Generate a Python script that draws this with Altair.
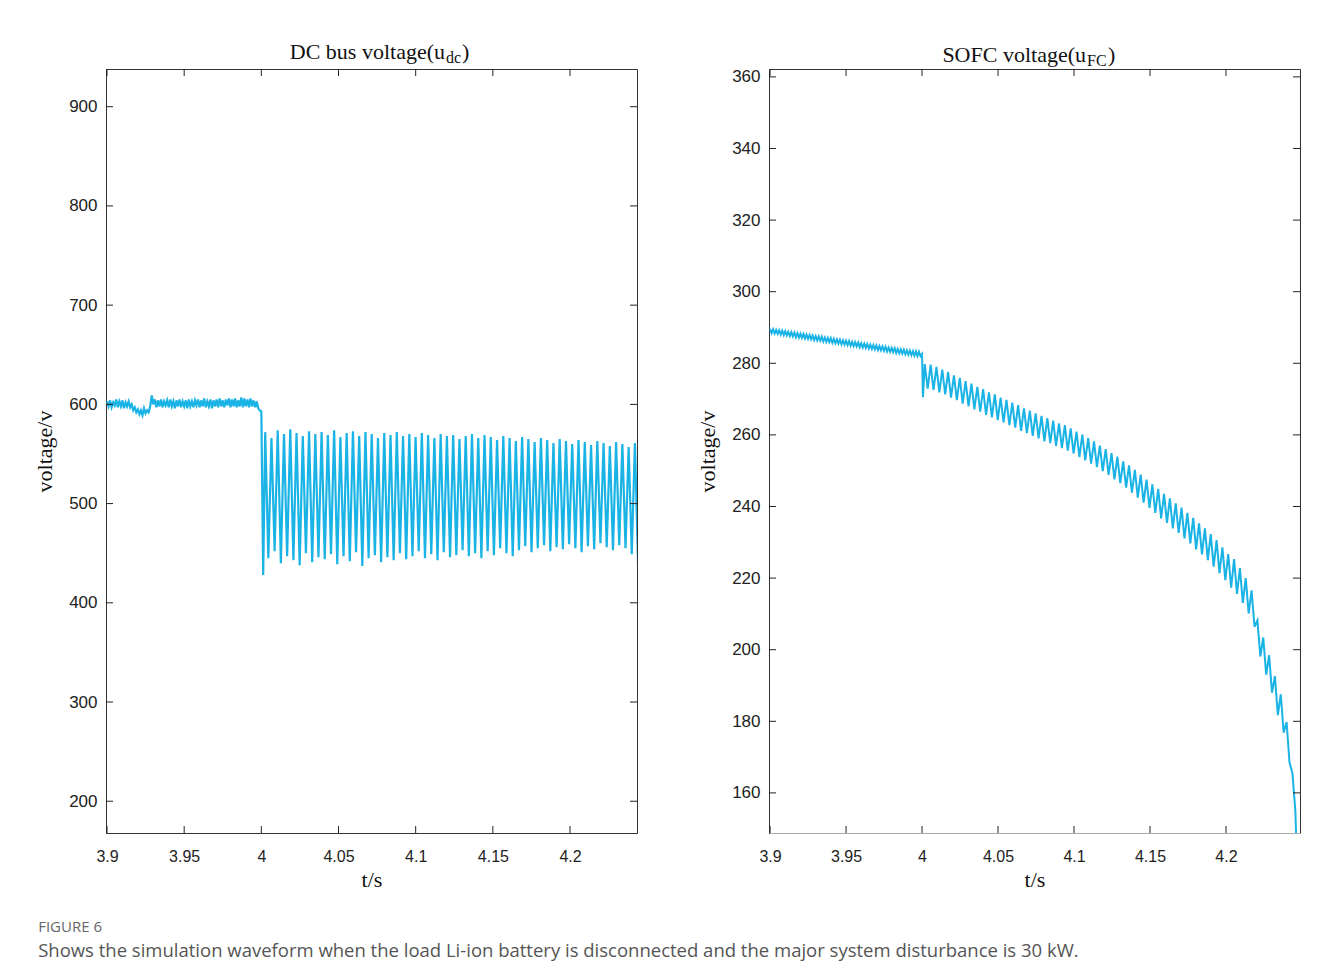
import altair as alt
import pandas as pd

# ---------------- data ----------------
x_ticks = [3.9, 3.95, 4.0, 4.05, 4.1, 4.15, 4.2]
y_ticks_dc = [200, 300, 400, 500, 600, 700, 800, 900]
y_ticks_fc = [160, 180, 200, 220, 240, 260, 280, 300, 320, 340, 360]

# DC bus voltage before the disturbance, sampled every 1 ms from 3.900 s
dc_pre_t0, dc_pre_dt = 3.9, 0.001
dc_pre = [603, 598, 604, 597, 602, 599, 605, 597, 603, 598,
          604, 596, 602, 598, 603, 597, 600, 594, 597, 592,
          595, 590, 594, 589, 596, 591, 594, 592, 598, 609,
          600, 605, 597, 604, 598, 605, 597, 603, 599, 604,
          597, 605, 598, 603, 596, 604, 598, 605, 597, 603,
          598, 604, 596, 605, 598, 603, 597, 604, 599, 605,
          597, 604, 598, 606, 597, 603, 598, 605, 596, 604,
          598, 605, 597, 606, 598, 604, 597, 605, 599, 606,
          597, 605, 598, 606, 597, 604, 598, 607, 597, 606,
          598, 605, 597, 606, 598, 604, 597, 603, 596, 594]
dc_step_t = [4.0, 4.0012]
dc_step_v = [593, 428]
# DC bus oscillation after the disturbance: alternating peak / trough
dc_osc_t0, dc_osc_dt = 4.0025, 0.00203
dc_peaks = [572, 566, 574, 570, 575, 571, 568, 573, 570, 572,
            569, 574, 567, 571, 573, 568, 572, 570, 566, 571,
            569, 572, 568, 570, 567, 571, 569, 566, 570, 568,
            569, 565, 568, 570, 566, 569, 567, 564, 568, 566,
            563, 567, 565, 562, 566, 564, 561, 565, 563, 560,
            564, 562, 559, 563, 561, 558, 562, 560, 557, 561]
dc_troughs = [445, 452, 440, 447, 443, 438, 450, 441, 446, 444,
              449, 439, 447, 442, 451, 437, 445, 448, 441, 446,
              443, 450, 444, 447, 452, 445, 449, 443, 451, 446,
              448, 453, 447, 450, 445, 452, 448, 455, 450, 447,
              453, 457, 451, 455, 458, 452, 456, 454, 459, 455,
              451, 457, 454, 460, 456, 453, 458, 455, 449, 440]

# SOFC voltage before the disturbance, sampled every 1 ms from 3.900 s
fc_pre_t0, fc_pre_dt = 3.9, 0.001
fc_pre = [289.6, 288.4, 289.5, 288.3, 289.3, 288.2, 289.2, 288.0, 289.1, 287.9,
          289.0, 287.8, 288.8, 287.6, 288.7, 287.5, 288.6, 287.3, 288.4, 287.2,
          288.3, 287.1, 288.2, 286.9, 288.0, 286.8, 287.9, 286.7, 287.8, 286.5,
          287.6, 286.4, 287.5, 286.3, 287.4, 286.1, 287.2, 286.0, 287.1, 285.9,
          287.0, 285.7, 286.8, 285.6, 286.7, 285.5, 286.6, 285.3, 286.4, 285.2,
          286.3, 285.1, 286.2, 284.9, 286.0, 284.8, 285.9, 284.7, 285.8, 284.5,
          285.6, 284.4, 285.5, 284.3, 285.4, 284.1, 285.2, 284.0, 285.1, 283.9,
          285.0, 283.7, 284.8, 283.6, 284.7, 283.5, 284.6, 283.3, 284.4, 283.2,
          284.3, 283.1, 284.2, 282.9, 284.0, 282.8, 283.9, 282.7, 283.8, 282.5,
          283.6, 282.4, 283.5, 282.3, 283.4, 282.1, 283.3, 282.0, 283.2, 282.0]
fc_step_t = [4.0, 4.0006]
fc_step_v = [282.6, 270.5]
# SOFC voltage ripple after the disturbance: alternating tooth top / bottom
fc_osc_t0, fc_osc_dt = 4.0018, 0.00192
fc_tops = [279.8, 279.6, 279.0, 278.2, 277.6, 276.6, 275.9, 275.0, 274.3, 273.4,
           272.8, 271.9, 271.3, 270.4, 269.8, 269.0, 268.3, 267.4, 266.8, 266.0,
           265.3, 264.7, 264.0, 263.2, 262.7, 261.8, 260.9, 260.1, 259.1, 258.2,
           257.0, 256.0, 254.9, 253.9, 252.6, 251.5, 250.2, 248.9, 247.5, 246.2,
           244.9, 243.5, 242.3, 240.9, 239.7, 238.2, 236.8, 235.3, 233.9, 232.3,
           230.6, 228.6, 226.7, 225.3, 222.8, 220.0, 216.6, 208.2, 203.4, 198.5,
           192.6, 187.5, 179.8, 165.5]
fc_bottoms = [272.9, 272.6, 271.9, 271.3, 270.4, 269.7, 268.7, 268.0, 267.1, 266.5,
              265.6, 264.9, 264.1, 263.5, 262.7, 262.0, 261.1, 260.5, 259.7, 259.0,
              258.2, 257.7, 256.9, 256.3, 255.6, 254.8, 253.8, 252.9, 252.0, 251.0,
              249.9, 248.8, 247.6, 246.5, 245.3, 243.9, 242.5, 241.1, 239.6, 238.2,
              236.7, 235.4, 233.9, 232.6, 231.1, 229.7, 228.0, 226.6, 225.0, 223.2,
              221.4, 219.4, 217.3, 215.6, 213.1, 210.1, 206.4, 198.1, 193.0, 188.0,
              181.7, 176.8, 168.5, 155.0]
fc_end_t = [4.2468]
fc_end_v = [140.0]


def build(pre_t0, pre_dt, pre, step_t, step_v, osc_t0, osc_dt, hi, lo, end_t=(), end_v=()):
    rows = [(pre_t0 + i * pre_dt, v) for i, v in enumerate(pre)]
    rows += list(zip(step_t, step_v))
    for k, (a, b) in enumerate(zip(hi, lo)):
        rows.append((osc_t0 + 2 * k * osc_dt, a))
        rows.append((osc_t0 + (2 * k + 1) * osc_dt, b))
    rows += list(zip(end_t, end_v))
    return pd.DataFrame(rows, columns=["t", "v"])


dc_df = build(dc_pre_t0, dc_pre_dt, dc_pre, dc_step_t, dc_step_v,
              dc_osc_t0, dc_osc_dt, dc_peaks, dc_troughs)
fc_df = build(fc_pre_t0, fc_pre_dt, fc_pre, fc_step_t, fc_step_v,
              fc_osc_t0, fc_osc_dt, fc_tops, fc_bottoms, fc_end_t, fc_end_v)

LINE = "#1AB3E6"
W, H = 531, 764
TICK = 7
SERIF = "Liberation Serif"
SANS = "Liberation Sans"


def panel(df, xdom, ydom, yticks, main, sub, sub_w, main_x, title_y, xdomain_color, lw):
    x = alt.X("t:Q", scale=alt.Scale(domain=xdom, nice=False, zero=False),
              axis=alt.Axis(values=x_ticks, format="~g", title="t/s", labelPadding=15,
                            titlePadding=5, domainColor=xdomain_color, grid=False,
                            ticks=False, labelFontSize=16, labelFont=SANS, labelColor="#222",
                            titleFont=SERIF, titleFontSize=22, titleFontWeight="normal",
                            titleColor="#111"))
    y = alt.Y("v:Q", scale=alt.Scale(domain=ydom, nice=False, zero=False),
              axis=alt.Axis(values=yticks, title="voltage/v", labelPadding=9,
                            titlePadding=12, grid=False, ticks=False, labelFontSize=17,
                            labelFont=SANS, labelColor="#222", titleFont=SERIF,
                            titleFontSize=22, titleFontWeight="normal", titleColor="#111",
                            domainColor="#333"))
    line = alt.Chart(df).mark_line(color=LINE, strokeWidth=lw, clip=True).encode(x=x, y=y)
    xt = pd.DataFrame({"t": x_ticks})
    yt = pd.DataFrame({"v": yticks})
    rule = dict(color="#222", strokeWidth=1)
    bot = alt.Chart(xt).mark_rule(**rule).encode(x=x, y=alt.value(H), y2=alt.value(H - TICK))
    top = alt.Chart(xt).mark_rule(**rule).encode(x=x, y=alt.value(0), y2=alt.value(TICK))
    lef = alt.Chart(yt).mark_rule(**rule).encode(y=y, x=alt.value(0), x2=alt.value(TICK))
    rig = alt.Chart(yt).mark_rule(**rule).encode(y=y, x=alt.value(W), x2=alt.value(W - TICK))
    tdf = pd.DataFrame({"a": [0]})
    t1 = alt.Chart(tdf).mark_text(font=SERIF, fontSize=22, align="right", baseline="alphabetic",
                                  color="#111").encode(x=alt.value(main_x), y=alt.value(title_y),
                                                        text=alt.value(main))
    t2 = alt.Chart(tdf).mark_text(font=SERIF, fontSize=16, align="left", baseline="alphabetic",
                                  color="#111").encode(x=alt.value(main_x + 1), y=alt.value(title_y + 4),
                                                        text=alt.value(sub))
    t3 = alt.Chart(tdf).mark_text(font=SERIF, fontSize=22, align="left", baseline="alphabetic",
                                  color="#111").encode(x=alt.value(main_x + 2 + sub_w),
                                                        y=alt.value(title_y), text=alt.value(")"))
    return alt.layer(line, bot, top, lef, rig, t1, t2, t3).properties(width=W, height=H)


left = panel(dc_df, [3.89935, 4.2434], [168, 938], y_ticks_dc,
             "DC bus voltage(u", "dc", 15, 339, -10, "#333", 2.2)
right = panel(fc_df, [3.8993, 4.2487], [148.8, 362.2], y_ticks_fc,
              "SOFC voltage(u", "FC", 20, 317, -7, "#aaa", 2.0)

chart = alt.hconcat(left, right, spacing=58).properties(
    background="white",
    padding={"left": 25, "top": 32, "right": 10, "bottom": 10},
    title=alt.TitleParams(
        text="FIGURE 6",
        subtitle="Shows the simulation waveform when the load Li-ion battery is disconnected and the major system disturbance is 30 kW.",
        orient="bottom", anchor="start", font="Open Sans", fontSize=15, fontWeight="normal",
        color="#666", subtitleFont="Open Sans", subtitleFontSize=18.5, subtitleColor="#555",
        offset=29, subtitlePadding=7, dx=5),
).configure_view(stroke="#333", strokeWidth=1)

chart.save("out.html", embed_options={"renderer": "svg", "actions": False})
